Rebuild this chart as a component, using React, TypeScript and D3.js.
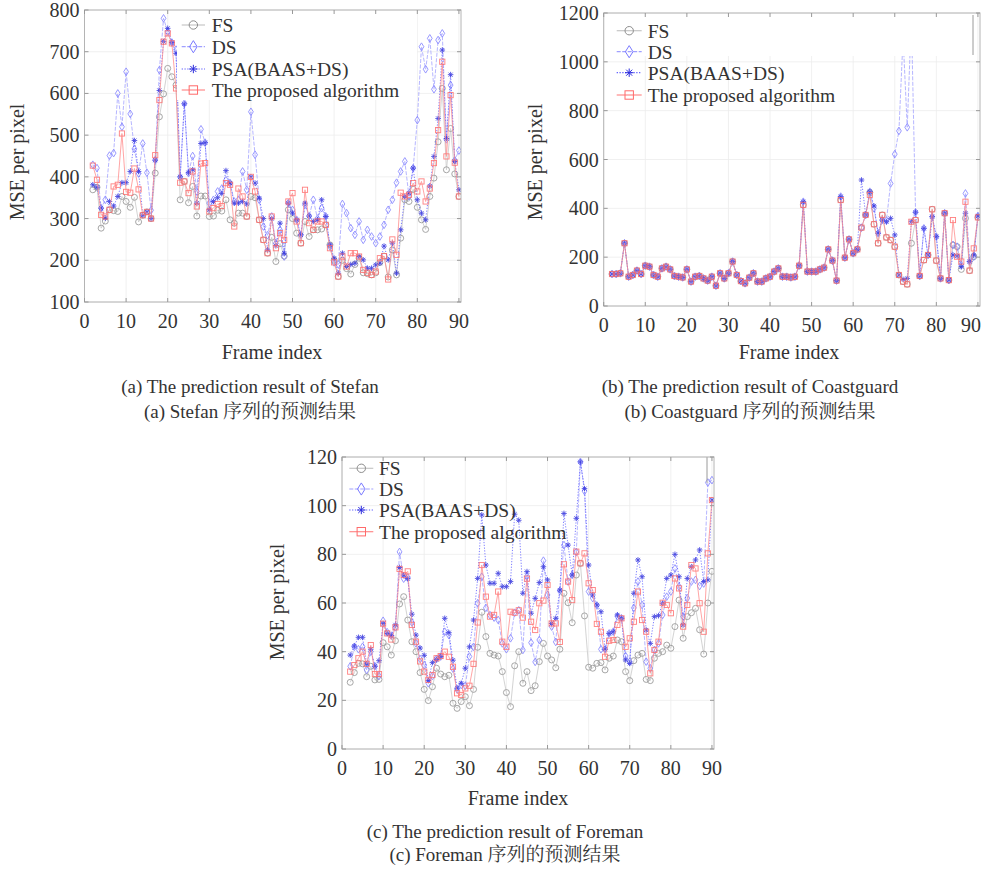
import React from "react";
import * as d3 from "d3";

// frames 2..90 on the x axis
const FIRST_FRAME = 2;
const X_TICKS = [0, 10, 20, 30, 40, 50, 60, 70, 80, 90];
const Y_TICKS_A = [100, 200, 300, 400, 500, 600, 700, 800];
const Y_TICKS_B = [0, 200, 400, 600, 800, 1000, 1200];
const Y_TICKS_C = [0, 20, 40, 60, 80, 100, 120];

const LEGEND_LABELS = ["FS", "DS", "PSA(BAAS+DS)", "The proposed algorithm"];

// (a) Stefan
const FS_A = [369,375,277,294,321,319,317,353,341,327,351,292,308,316,300,409,544,599,660,640,620,345,389,338,377,306,354,354,305,306,320,318,345,297,289,313,313,305,353,350,297,249,217,255,197,240,210,321,300,265,241,293,257,273,273,275,285,237,200,161,200,180,167,190,205,170,168,165,170,195,210,160,225,165,253,345,341,370,327,297,274,353,397,484,612,417,516,407,353];
const DS_A = [429,421,325,345,451,457,600,520,652,551,467,408,480,410,320,440,656,780,748,722,705,400,576,409,450,365,514,482,337,345,365,372,392,385,341,345,413,369,556,453,345,281,260,305,241,273,209,337,321,297,261,333,306,345,300,325,305,233,195,190,335,313,277,261,293,249,273,257,241,257,285,321,345,386,413,437,353,421,536,712,658,732,610,728,744,490,620,440,463];
const PSA_A = [381,375,325,301,341,330,353,386,386,413,487,413,308,316,300,440,607,724,756,722,696,400,575,410,417,337,480,482,321,341,350,360,415,385,337,337,341,335,400,385,349,300,225,300,235,289,217,337,313,297,261,337,306,293,297,345,305,237,205,169,217,185,190,193,209,201,181,181,189,193,234,201,241,169,273,353,361,421,345,313,297,378,449,540,704,492,645,437,369];
const PROP_A = [427,393,309,305,321,377,381,504,364,362,420,370,308,316,300,452,584,724,744,720,612,386,389,361,413,329,432,433,317,325,335,330,385,381,281,372,353,305,400,365,297,249,217,305,229,265,249,341,361,293,241,369,289,273,293,293,285,229,195,161,209,185,217,217,209,177,170,165,173,205,210,154,250,213,362,353,357,385,365,389,341,372,433,512,676,449,596,434,353];

// (b) Coastguard
const FS_B = [131,131,134,257,120,127,145,131,165,161,127,120,154,161,150,123,120,117,150,100,120,123,113,104,120,83,134,113,134,182,127,102,93,116,134,100,100,113,120,141,154,120,120,117,120,165,414,141,141,141,150,157,232,186,104,434,198,273,216,232,321,373,465,335,257,373,281,270,243,127,100,89,257,352,123,188,209,396,186,113,380,106,250,243,150,359,145,202,363];
const DS_B = [131,131,134,257,120,127,145,131,165,161,127,120,154,161,150,123,120,117,150,100,120,123,113,104,120,83,134,113,134,182,127,102,93,116,134,100,100,113,120,141,154,120,120,117,120,165,427,141,141,141,150,157,232,186,104,448,198,273,216,232,321,373,468,400,298,352,350,502,622,717,1100,732,1180,384,123,318,209,366,284,113,380,106,250,243,168,461,182,202,369];
const PSA_B = [131,131,134,257,120,127,145,131,165,161,127,120,154,161,150,123,120,117,150,100,120,123,113,104,120,83,134,113,134,182,127,102,93,116,134,100,100,113,120,141,154,120,120,117,120,165,427,141,141,141,150,157,232,186,104,448,198,273,216,232,516,373,468,410,298,352,345,359,291,127,109,113,345,384,123,318,209,366,284,113,380,106,209,205,161,380,182,209,369];
const PROP_B = [131,131,134,257,120,127,145,131,165,161,127,120,154,161,150,123,120,117,150,100,120,123,113,104,120,83,134,113,134,182,127,102,93,116,134,100,100,113,120,141,154,120,120,117,120,165,414,141,141,141,150,157,232,186,104,434,198,273,216,232,321,373,455,335,257,373,281,270,243,127,100,89,345,352,123,188,209,396,186,113,380,106,352,202,182,427,145,236,363];

// (c) Foreman
const FS_C = [27.4,31.4,35.2,35,29.7,34,28.4,28.6,43.7,42,38.6,44.5,59.6,62.6,53,44.1,40,31.4,24.5,19.9,25.6,33.2,30.8,29.7,30.3,18.8,16.7,19.5,21.5,17.8,24.5,41.8,56.2,46.2,39.3,38.6,38.2,31.8,23.2,17.4,34.2,40,27,31.8,24,26,35.9,43.4,38.2,36.6,33.4,41,64,60.1,51.9,71.5,76.3,54.7,33.6,33.2,35.2,35.5,32.5,37.3,38.2,44.8,44.1,31.8,28.1,36.3,38.6,39.3,28.6,28.1,37.3,39.3,40,42.7,41.4,50.3,61.2,45.5,54.4,56,57.8,49,39,60,73];
const DS_C = [34,42,41,42,32.5,40,34,30,52.7,48,46.6,50,81,70,70.5,52,43.4,37,34.5,27,30,37,38,48.2,46.8,33,24.5,26.3,26,38,42,59.9,70.8,58,55,54,53,43.4,41,45.5,56,57,40.7,71,43.7,35.8,44.8,77.4,63.3,50.3,44,65,83.8,68.8,71.5,81,118,106,64.7,62,59,41,41,47.5,48.2,54.5,53.7,38.2,35.9,58,68.8,59.2,35.9,33.2,40.7,43.4,55.1,62.6,64.7,74.2,66.7,54.4,62,68.8,69.5,67,68,109.5,110.5];
const PSA_C = [38.6,42.3,45.9,45.9,35,41,34,36.3,51.5,47.5,46.6,51,74.6,71.5,70,55.4,46.8,41.5,38.5,28.1,35.5,36.8,38,53.7,47.8,36.5,25,27,33.2,42,53,70.1,96.2,75.6,68.1,68.1,72.2,66.7,66.7,68.8,96.5,94,64,72.9,55.8,61.9,68.4,74.9,69.5,51.6,53.7,65.3,96.8,83.8,71.5,94.8,118,107,75.6,63.3,59.2,56.4,41,47.5,48.2,55.1,53.7,36.6,35.2,64,77.7,70.8,48.9,43.4,54.4,54.8,59.9,70.1,71.5,80,70.8,51,70.1,74.9,77.7,81.8,68.8,69.5,102.3];
const PROP_C = [31.8,34.5,37.3,40,35,42.7,30.8,30.8,51.5,47.5,45,50,74,71.5,73,51,44.1,36,31.8,28.4,30.4,37.3,38.2,40,37.9,33.8,22.9,22.2,24.9,26,35,52,75.6,62.6,54.4,55.1,64.7,44.1,42,56.4,56,57,54,70,52.3,48.9,59.9,61,67.4,51.6,51.6,44,75.9,68.8,61.2,81.1,76.3,80.4,68.1,65.3,51.4,48.2,37.9,44.5,44.8,51,53.7,42,45.5,52.3,64.7,53,48.2,31.1,40.7,44.1,60.1,59.2,55.8,70.1,66,50.3,59.2,75.6,74.2,59.9,48.2,80.4,102.3];

const SERIF = '"Liberation Serif", "Times New Roman", "Noto Serif CJK SC", "Noto Sans CJK SC", serif';
const TEXT = "#333";
const PAGE_W = 983;

const STYLES = [
  { kind: "circle", line: "#c6c6c6", dash: null, mark: "#8c8c8c", size: 3 },
  { kind: "diamond", line: "#a0a0ff", dash: "4 1.5", mark: "#7a7aff", size: 2.4 },
  { kind: "star", line: "#5555ff", dash: "1.2 1.6", mark: "#2c2cdc", size: 2.8 },
  { kind: "square", line: "#ff8a8a", dash: null, mark: "#ff6a6a", size: 2.6 },
];

const PANELS = [
  {
    id: "a",
    plot: { l: 84.5, r: 461, t: 10, b: 302 },
    yDomain: [100, 800],
    yTicks: Y_TICKS_A,
    series: [FS_A, DS_A, PSA_A, PROP_A],
    legend: { x0: 181.7, x1: 205, tx: 211.7, rows: [25, 46.7, 69, 90] },
    box: { x: 177, y: 11, w: 240, h: 89 },
    edge: null,
    xLabel: { x: 272, y: 359 },
    yLabel: { x: 17, y: 162 },
    caption: { x: 250, y: [393, 418], lines: ["(a) The prediction result of Stefan", "(a) Stefan 序列的预测结果"] },
  },
  {
    id: "b",
    plot: { l: 603.7, r: 980, t: 13, b: 306 },
    yDomain: [0, 1200],
    yTicks: Y_TICKS_B,
    series: [FS_B, DS_B, PSA_B, PROP_B],
    legend: { x0: 616.7, x1: 641.7, tx: 647.7, rows: [30.7, 51.7, 72.7, 95] },
    box: { x: 605, y: 14, w: 368, h: 42 },
    edge: { x: 973, y0: 15, y1: 55 },
    xLabel: { x: 789, y: 359 },
    yLabel: { x: 535, y: 162 },
    caption: { x: 750, y: [393, 418], lines: ["(b) The prediction result of Coastguard", "(b) Coastguard 序列的预测结果"] },
  },
  {
    id: "c",
    plot: { l: 342, r: 714, t: 457, b: 749 },
    yDomain: [0, 120],
    yTicks: Y_TICKS_C,
    series: [FS_C, DS_C, PSA_C, PROP_C],
    legend: { x0: 349.3, x1: 373.3, tx: 379, rows: [468.3, 489, 510, 531.7] },
    box: null,
    edge: { x: 707, y0: 457, y1: 483 },
    xLabel: { x: 518, y: 805 },
    yLabel: { x: 277, y: 602 },
    caption: { x: 505, y: [838, 861], lines: ["(c) The prediction result of Foreman", "(c) Foreman 序列的预测结果"] },
  },
];

function Marker({ kind, x, y, s, color, w = 0.9 }) {
  if (kind === "circle") return <circle cx={x} cy={y} r={s} fill="none" stroke={color} strokeWidth={w} />;
  if (kind === "square")
    return <rect x={x - s} y={y - s} width={2 * s} height={2 * s} fill="none" stroke={color} strokeWidth={w} />;
  if (kind === "diamond")
    return (
      <path
        d={`M${x},${y - s * 1.6}L${x + s},${y}L${x},${y + s * 1.6}L${x - s},${y}Z`}
        fill="none"
        stroke={color}
        strokeWidth={w}
      />
    );
  const k = s * 0.72;
  return (
    <path
      d={`M${x - s},${y}h${2 * s}M${x},${y - s}v${2 * s}M${x - k},${y - k}l${2 * k},${2 * k}M${x - k},${y + k}l${2 * k},${-2 * k}`}
      stroke={color}
      strokeWidth={w}
      fill="none"
    />
  );
}

function Chart({ p }) {
  const { plot } = p;
  const x = d3.scaleLinear().domain([0, 90.5]).range([plot.l, plot.r]);
  const y = d3.scaleLinear().domain(p.yDomain).range([plot.b, plot.t]);
  const line = d3
    .line<number>()
    .x((_, i) => x(FIRST_FRAME + i))
    .y((d) => y(d));
  const clipId = `clip-${p.id}`;

  return (
    <g>
      <defs>
        <clipPath id={clipId}>
          <rect x={plot.l} y={plot.t} width={plot.r - plot.l} height={plot.b - plot.t} />
        </clipPath>
      </defs>
      {/* grid */}
      {X_TICKS.map((t) => (
        <line key={"gx" + t} x1={x(t)} x2={x(t)} y1={plot.t} y2={plot.b} stroke="#ececec" strokeWidth={0.8} />
      ))}
      {p.yTicks.map((t) => (
        <line key={"gy" + t} x1={plot.l} x2={plot.r} y1={y(t)} y2={y(t)} stroke="#ececec" strokeWidth={0.8} />
      ))}

      {/* series */}
      <g clipPath={`url(#${clipId})`}>
        {p.series.map((vals, si) => {
          const st = STYLES[si];
          return (
            <g key={si} opacity={0.85}>
              <path d={line(vals)} fill="none" stroke={st.line} strokeWidth={0.9} strokeDasharray={st.dash || undefined} />
              {vals.map((v, i) => (
                <Marker key={i} kind={st.kind} x={x(FIRST_FRAME + i)} y={y(v)} s={st.size} color={st.mark} />
              ))}
            </g>
          );
        })}
      </g>

      {/* legend */}
      {p.box && <rect x={p.box.x} y={p.box.y} width={p.box.w} height={p.box.h} fill="#fff" />}
      {p.edge && <line x1={p.edge.x} x2={p.edge.x} y1={p.edge.y0} y2={p.edge.y1} stroke="#9a9a9a" strokeWidth={1} />}
      {LEGEND_LABELS.map((label, i) => {
        const st = STYLES[i];
        const ry = p.legend.rows[i];
        return (
          <g key={label}>
            <line
              x1={p.legend.x0}
              x2={p.legend.x1}
              y1={ry}
              y2={ry}
              stroke={st.line}
              strokeWidth={1.2}
              strokeDasharray={st.dash || undefined}
            />
            <Marker
              kind={st.kind}
              x={(p.legend.x0 + p.legend.x1) / 2}
              y={ry}
              s={st.kind === "diamond" ? 3.8 : 4.2}
              color={st.mark}
              w={1}
            />
            <text x={p.legend.tx} y={ry} dy="0.35em" fontSize={19.5} fill={TEXT}>
              {label}
            </text>
          </g>
        );
      })}

      {/* box + ticks */}
      <rect x={plot.l} y={plot.t} width={plot.r - plot.l} height={plot.b - plot.t} fill="none" stroke="#b4b4b4" strokeWidth={1} />
      {X_TICKS.map((t) => (
        <g key={"tx" + t}>
          <line x1={x(t)} x2={x(t)} y1={plot.b} y2={plot.b - 4} stroke="#999" />
          <line x1={x(t)} x2={x(t)} y1={plot.t} y2={plot.t + 4} stroke="#999" />
          {/* keep the last label inside the page */}
          <text x={Math.min(x(t), PAGE_W - 12)} y={plot.b + 26} textAnchor="middle" fontSize={20} fill={TEXT}>
            {t}
          </text>
        </g>
      ))}
      {p.yTicks.map((t) => (
        <g key={"ty" + t}>
          <line x1={plot.l} x2={plot.l + 4} y1={y(t)} y2={y(t)} stroke="#999" />
          <line x1={plot.r} x2={plot.r - 4} y1={y(t)} y2={y(t)} stroke="#999" />
          <text x={plot.l - 5} y={y(t)} dy="0.35em" textAnchor="end" fontSize={20} fill={TEXT}>
            {t}
          </text>
        </g>
      ))}

      {/* labels */}
      <text x={p.xLabel.x} y={p.xLabel.y} textAnchor="middle" fontSize={20} fill={TEXT}>
        Frame index
      </text>
      <text
        transform={`translate(${p.yLabel.x},${p.yLabel.y}) rotate(-90)`}
        dy="0.35em"
        textAnchor="middle"
        fontSize={20}
        fill={TEXT}
      >
        MSE per pixel
      </text>
      {p.caption.lines.map((c, i) => (
        <text key={i} x={p.caption.x} y={p.caption.y[i]} textAnchor="middle" fontSize={19} fill={TEXT}>
          {c}
        </text>
      ))}
    </g>
  );
}

export default function App() {
  return (
    <svg
      width={983}
      height={870}
      style={{ position: "absolute", left: 0, top: 0, background: "#fff" }}
      fontFamily={SERIF}
    >
      {PANELS.map((p) => (
        <Chart key={p.id} p={p} />
      ))}
    </svg>
  );
}
